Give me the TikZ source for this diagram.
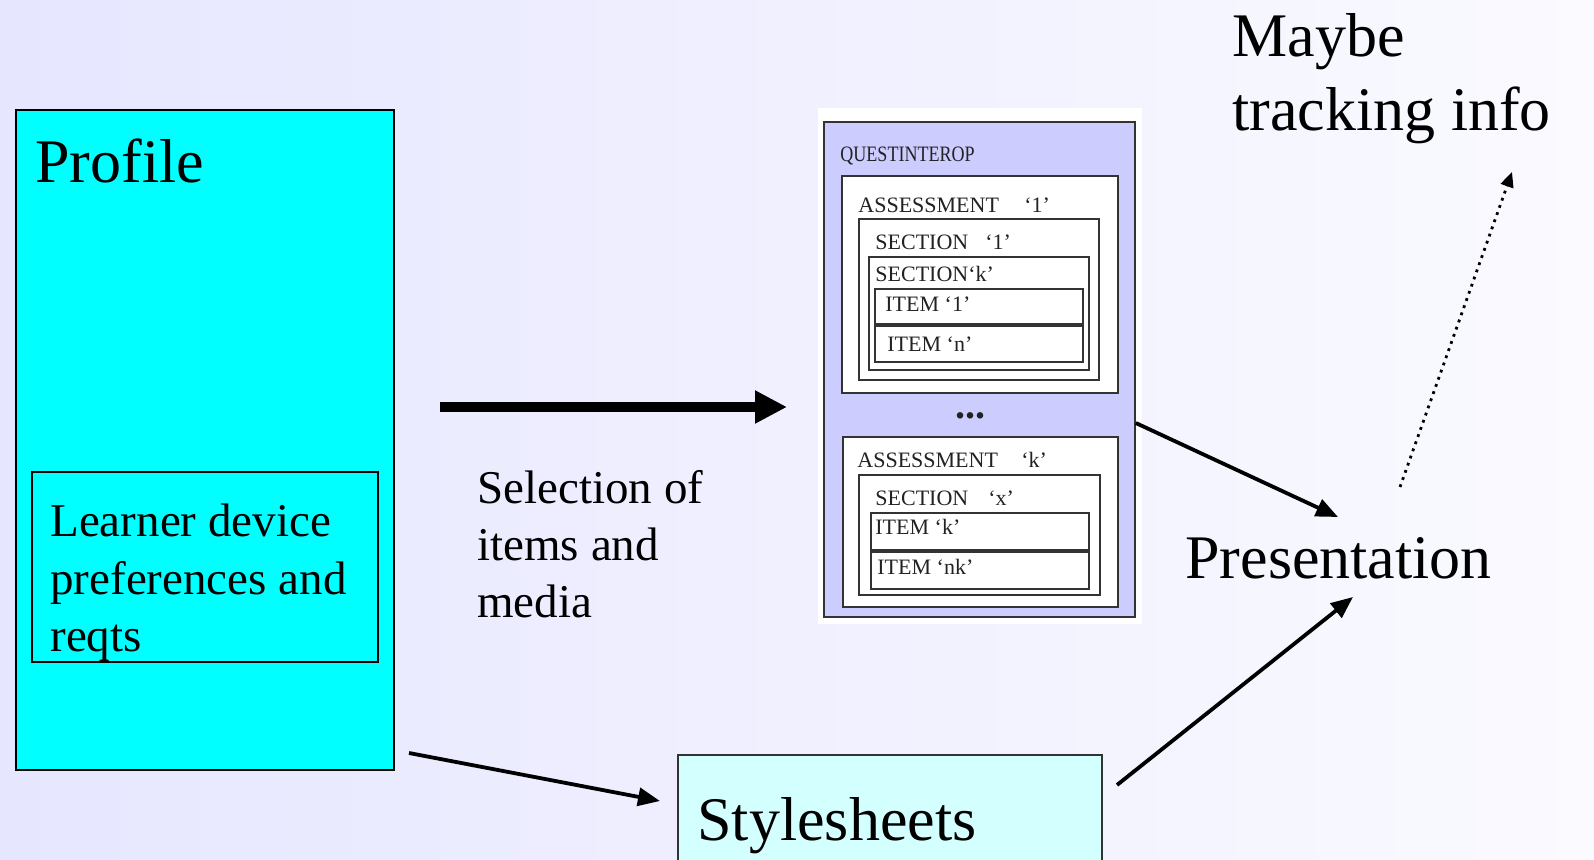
\documentclass[tikz,border=0pt]{standalone}
\usepackage{fontspec}
\setmainfont{Liberation Serif}
\usetikzlibrary{arrows.meta,calc}
\definecolor{bgl}{HTML}{E6E6FF}
\definecolor{bgr}{HTML}{FAFAFF}
\definecolor{cyanf}{HTML}{00FFFF}
\definecolor{lcyan}{HTML}{D4FFFF}
\definecolor{lav}{HTML}{CCCCFF}
\definecolor{qline}{HTML}{333333}
\definecolor{qtext}{HTML}{222222}
\begin{document}
\begin{tikzpicture}[x=0.5pt,y=-0.5pt,
  bigfont/.style={font=\fontsize{31}{37}\selectfont},
  midfont/.style={font=\fontsize{23.5}{29}\selectfont},
  smallfont/.style={font=\fontsize{11}{13}\selectfont, text=qtext},
  lbl/.style={anchor=base west, inner sep=0pt},
  boxframe/.style={draw=black, line width=1pt},
  qbox/.style={draw=qline, line width=0.75pt, fill=white},
  thinarrow/.style={line width=1.9pt, -{Triangle[length=11pt,width=9pt]}},
  bigarrow/.style={line width=4.8pt, -{Triangle[length=16pt,width=15.5pt]}},
  dotarrow/.style={line width=1.4pt, dash pattern=on 1.4pt off 2.4pt, -{Triangle[length=7.5pt,width=6.5pt]}}]
\shade[left color=bgl,right color=bgr] (0,0) rectangle (1594,860);
\useasboundingbox (0,0) rectangle (1594,860);

% Profile
\node[boxframe, fill=cyanf, anchor=north west, inner sep=0pt,
      minimum width=189pt, minimum height=330pt] (profile) at (15,109) {};
\node[lbl, bigfont] (proftxt) at (35,183) {Profile};
\node[boxframe, anchor=north west, inner sep=0pt,
      minimum width=173pt, minimum height=95pt] (learner) at (31,471) {};
\node[lbl, midfont] (learnertxt) at (50,536)
  {\parbox[t]{200pt}{\raggedright Learner device\\preferences and\\reqts}};

% Selection label
\node[lbl, font=\fontsize{23.5}{28.5}\selectfont] (seltxt) at (477,503)
  {\parbox[t]{200pt}{\raggedright Selection of\\items and\\media}};

% QTI picture
\fill[white] (818,108) rectangle (1142,624);
\node[draw=qline, line width=0.9pt, fill=lav, anchor=north west, inner sep=0pt,
      minimum width=155.5pt, minimum height=247.5pt] (qti) at (823,121) {};
\node[lbl, smallfont] (qtitxt) at (840,162) {\scalebox{0.82}[1]{QUESTINTEROP}};
\draw[qbox] (842,176) rectangle (1118,393);
\node[lbl, smallfont] (a1txt) at (858,213) {ASSESSMENT};
\node[lbl, smallfont] (a1num) at (1024,213) {‘1’};
\draw[qbox] (859,219) rectangle (1099,380);
\node[lbl, smallfont] (s1txt) at (875,250) {SECTION};
\node[lbl, smallfont] (s1num) at (985,250) {‘1’};
\draw[qbox] (869,257) rectangle (1089,370);
\node[lbl, smallfont] (sktxt) at (875,282) {SECTION‘k’};
\draw[qbox] (875,289) rectangle (1083,362);
\draw[qline, line width=1.6pt] (875,325) -- (1083,325);
\node[lbl, smallfont] (i1txt) at (885,312) {ITEM ‘1’};
\node[lbl, smallfont] (intxt) at (887,352) {ITEM ‘n’};
\node[anchor=center, font=\fontsize{20}{20}\bfseries\selectfont, text=qtext, inner sep=0pt] (dots) at (970,416) {...};
\draw[qbox] (843,437) rectangle (1118,607);
\node[lbl, smallfont] (aktxt) at (857,467) {ASSESSMENT};
\node[lbl, smallfont] (aknum) at (1021,467) {‘k’};
\draw[qbox] (859,475) rectangle (1100,595);
\node[lbl, smallfont] (sxtxt) at (875,506) {SECTION};
\node[lbl, smallfont] (sxnum) at (988,506) {‘x’};
\draw[qbox] (871,513) rectangle (1089,589);
\draw[qline, line width=1.6pt] (871,551) -- (1089,551);
\node[lbl, smallfont] (iktxt) at (875,534) {ITEM ‘k’};
\node[lbl, smallfont] (inktxt) at (877,574) {ITEM ‘nk’};

% Stylesheets
\node[draw=qline, line width=0.9pt, fill=lcyan, anchor=north west, inner sep=0pt,
      minimum width=212pt, minimum height=70pt] (style) at (677,754) {};
\node[lbl, bigfont] (styletxt) at (697,840) {Stylesheets};

% Presentation
\node[lbl, bigfont] (pres) at (1185,578) {Presentation};

% Maybe tracking info
\node[lbl, font=\fontsize{31}{37}\selectfont] (maybe) at (1232,57)
  {\parbox[t]{200pt}{\raggedright Maybe\\tracking info}};

% connectors
\coordinate (bigS) at (440,407);
\coordinate (bigE) at (787,407);
\draw[bigarrow] (bigS) -- (bigE);

\coordinate (qtiOut) at ($(qti.north east)+(0,302)$);
\coordinate (presIn1) at (1338,517);
\draw[thinarrow] (qtiOut) -- (presIn1);

\coordinate (profOut) at (409,753);
\coordinate (styleIn) at (660,801);
\draw[thinarrow] (profOut) -- (styleIn);

\coordinate (styleOut) at (1117,785);
\coordinate (presIn2) at (1353,597);
\draw[thinarrow] (styleOut) -- (presIn2);

\coordinate (dotS) at (1400,487);
\coordinate (dotE) at (1512,172);
\draw[dotarrow] (dotS) -- (dotE);
\end{tikzpicture}
\end{document}
